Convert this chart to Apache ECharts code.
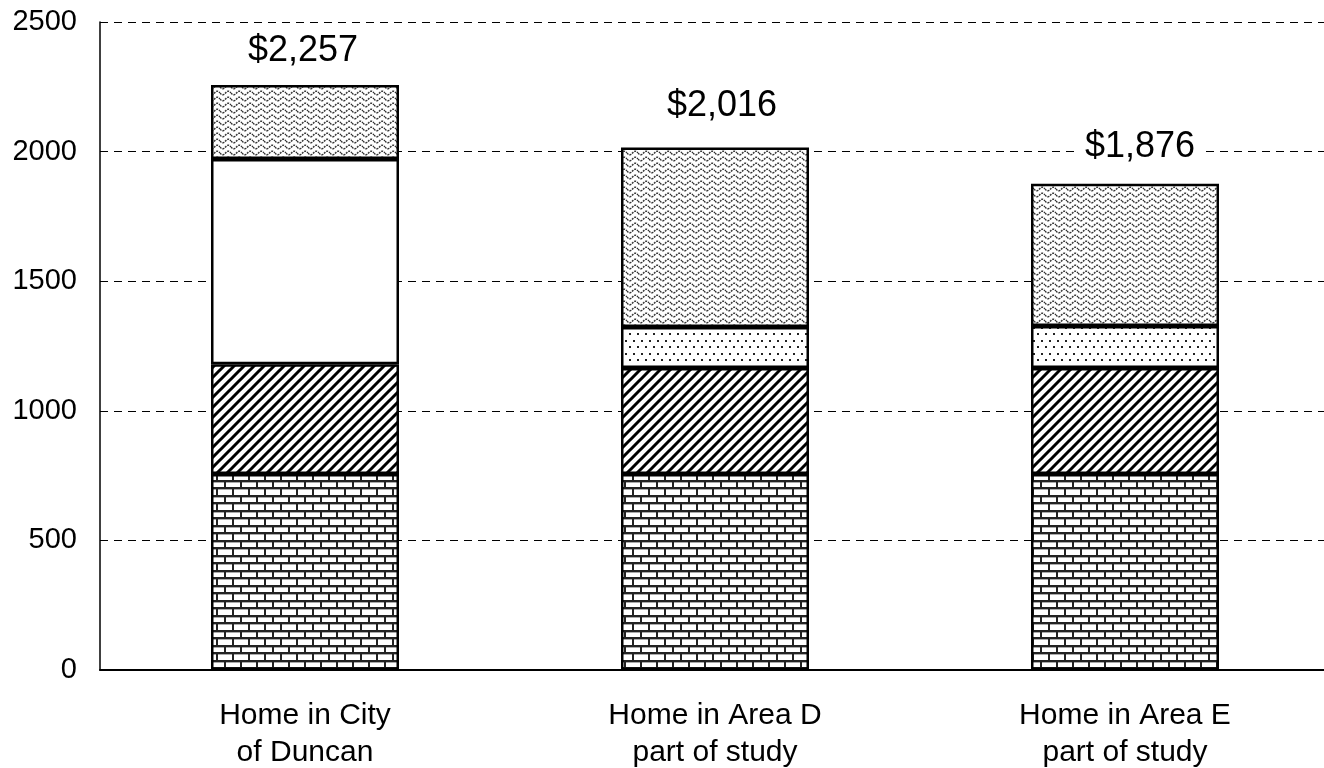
<!DOCTYPE html>
<html>
<head>
<meta charset="utf-8">
<script src="https://cdn.jsdelivr.net/npm/echarts@6/dist/echarts.min.js"></script>
<style>
  html, body { margin: 0; padding: 0; background: #fff; }
  #chart { width: 1324px; height: 768px; }
</style>
</head>
<body>
<div id="chart"></div>
<script>
// categories and stacked pieces (dollars)
var categories = ['Home in City\nof Duncan', 'Home in Area D\npart of study', 'Home in Area E\npart of study'];
var brickVals = [756, 756, 756];
var hatchVals = [424, 409, 409];
var whiteVals = [791, 0, 0];
var dotVals = [0, 158, 162];
var waveVals = [286, 693, 549];
var totals = ['$2,257', '$2,016', '$1,876'];
var labelGap = [16, 23, 19];
var labelShift = [-2, 7, 15];

// pattern tiles
function makeTile(w, h, draw) {
    var c = document.createElement('canvas');
    c.width = w;
    c.height = h;
    var ctx = c.getContext('2d');
    ctx.fillStyle = '#fff';
    ctx.fillRect(0, 0, w, h);
    draw(ctx);
    return { image: c, repeat: 'repeat' };
}

var brick = makeTile(16, 15, function(ctx) {
    ctx.fillStyle = '#222';
    ctx.fillRect(0, 0, 16, 2);
    ctx.fillRect(0, 7, 16, 2);
    ctx.fillRect(0, 0, 2, 7);
    ctx.fillRect(8, 7, 2, 8);
    ctx.fillStyle = '#aaa';
    ctx.fillRect(2, 2, 14, 1);
    ctx.fillRect(0, 9, 8, 1);
    ctx.fillRect(10, 9, 6, 1);
});

var hatch = makeTile(10, 10, function(ctx) {
    ctx.strokeStyle = '#000';
    ctx.lineWidth = 3;
    ctx.beginPath();
    ctx.moveTo(-2, 12); ctx.lineTo(12, -2);
    ctx.moveTo(-12, 12); ctx.lineTo(2, -2);
    ctx.moveTo(8, 12); ctx.lineTo(22, -2);
    ctx.stroke();
});

var dots = makeTile(8, 13, function(ctx) {
    ctx.fillStyle = '#222';
    ctx.fillRect(1, 2, 2, 2);
    ctx.fillRect(5, 8, 2, 2);
});

var wave = makeTile(11, 6, function(ctx) {
    ctx.strokeStyle = '#333';
    ctx.lineWidth = 1.5;
    ctx.setLineDash([2, 1]);
    ctx.beginPath();
    for (var x = 0; x <= 11; x += 0.5) {
        var y = 3 + 1.8 * Math.sin(x / 11 * Math.PI * 2);
        if (x === 0) ctx.moveTo(x, y); else ctx.lineTo(x, y);
    }
    ctx.stroke();
});

function piece(name, vals, fill) {
    return {
        name: name,
        type: 'bar',
        stack: 'cost',
        barWidth: 188,
        data: vals,
        itemStyle: { color: fill, borderColor: '#000', borderWidth: 2.5 }
    };
}

var topData = waveVals.map(function(v, i) {
    return {
        value: v,
        label: {
            show: true,
            position: 'top',
            distance: labelGap[i],
            offset: [labelShift[i], 0],
            formatter: totals[i],
            fontSize: 36,
            color: '#000',
            fontFamily: 'Liberation Sans',
            backgroundColor: '#fff',
            padding: [0, 10]
        }
    };
});

var chart = echarts.init(document.getElementById('chart'));
chart.setOption({
    animation: false,
    backgroundColor: '#fff',
    textStyle: { fontFamily: 'Liberation Sans' },
    grid: { left: 100, right: -6, top: 22, bottom: 98, outerBoundsMode: 'none', containLabel: false },
    xAxis: {
        type: 'category',
        data: categories,
        axisLine: { lineStyle: { color: '#000', width: 2 } },
        axisTick: { show: false },
        axisLabel: { color: '#000', fontSize: 30, lineHeight: 37, margin: 27 }
    },
    yAxis: {
        type: 'value',
        min: 0,
        max: 2500,
        interval: 500,
        axisLine: { show: true, lineStyle: { color: '#000', width: 1.5 } },
        axisTick: { show: false },
        axisLabel: {
            color: '#000',
            fontSize: 29,
            margin: 23,
            formatter: function(v) { return String(v); }
        },
        splitLine: { lineStyle: { color: '#000', type: [8, 6], width: 1 } }
    },
    series: [
        piece('brick', brickVals, brick),
        piece('hatch', hatchVals, hatch),
        piece('white', whiteVals, '#fff'),
        piece('dots', dotVals, dots),
        piece('wave', topData, wave)
    ]
});
</script>
</body>
</html>
